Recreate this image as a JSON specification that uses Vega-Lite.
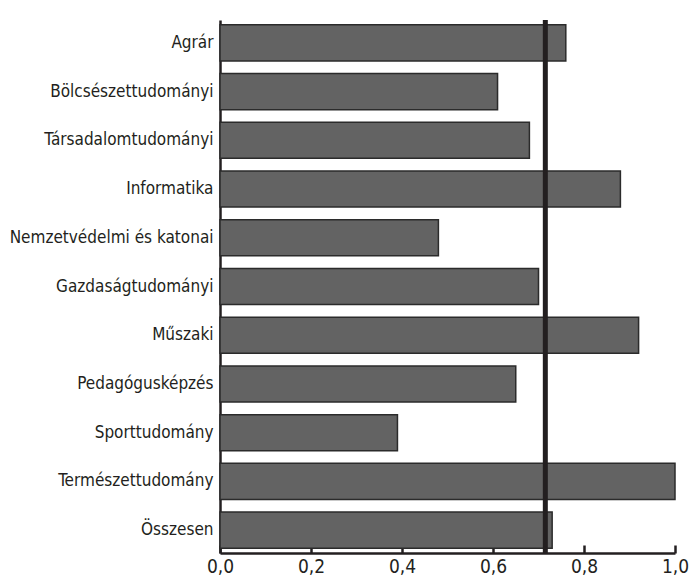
{
  "$schema": "https://vega.github.io/schema/vega-lite/v6.json",
  "autosize": "none",
  "padding": {"left": 220, "top": 20, "right": 14, "bottom": 30},
  "width": 455,
  "height": 533,
  "background": "white",
  "config": {"view": {"stroke": null}, "font": "DejaVu Sans Condensed"},
  "datasets": {
    "bars": [
      {"kategoria": "Agrár", "ertek": 0.76},
      {"kategoria": "Bölcsészettudományi", "ertek": 0.61},
      {"kategoria": "Társadalomtudományi", "ertek": 0.68},
      {"kategoria": "Informatika", "ertek": 0.88},
      {"kategoria": "Nemzetvédelmi és katonai", "ertek": 0.48},
      {"kategoria": "Gazdaságtudományi", "ertek": 0.70},
      {"kategoria": "Műszaki", "ertek": 0.92},
      {"kategoria": "Pedagógusképzés", "ertek": 0.65},
      {"kategoria": "Sporttudomány", "ertek": 0.39},
      {"kategoria": "Természettudomány", "ertek": 1.0},
      {"kategoria": "Összesen", "ertek": 0.73}
    ],
    "ref": [{"atlag": 0.715}]
  },
  "layer": [
    {
      "data": {"name": "bars"},
      "mark": {"type": "bar", "fill": "#636363", "stroke": "#2b2b2b", "strokeWidth": 1.5},
      "encoding": {
        "y": {
          "field": "kategoria", "type": "nominal", "sort": null,
          "scale": {"paddingInner": 0.26, "paddingOuter": 0.1},
          "axis": {
            "title": null, "ticks": false, "domainColor": "#231f20", "domainWidth": 2.5,
            "labelFont": "DejaVu Sans Condensed", "labelFontSize": 17, "labelColor": "#231f20",
            "labelPadding": 7, "labelLimit": 300
          }
        },
        "x": {
          "field": "ertek", "type": "quantitative",
          "scale": {"domain": [0, 1], "nice": false},
          "axis": {
            "title": null, "values": [0, 0.2, 0.4, 0.6, 0.8, 1.0], "grid": false,
            "domainColor": "#231f20", "domainWidth": 2.5,
            "tickColor": "#231f20", "tickWidth": 2.5, "tickSize": -8,
            "labelExpr": "replace(format(datum.value, '.1f'), '.', ',')",
            "labelFont": "DejaVu Sans Condensed", "labelFontSize": 19, "labelColor": "#231f20",
            "labelPadding": 12, "labelFlush": false
          }
        }
      }
    },
    {
      "data": {"name": "ref"},
      "mark": {"type": "rule", "color": "#231f20", "strokeWidth": 5},
      "encoding": {"x": {"field": "atlag", "type": "quantitative"}}
    }
  ]
}
